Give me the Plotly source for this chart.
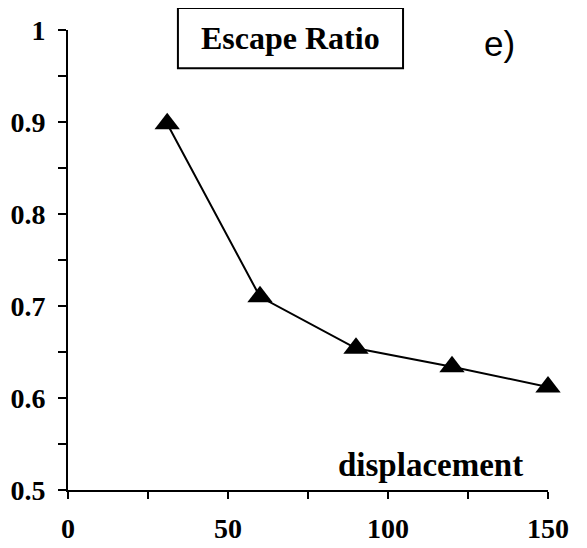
import plotly.graph_objects as go

# data
displacement = [31, 60, 90, 120, 150]
escape_ratio = [0.898, 0.710, 0.654, 0.634, 0.612]

x_ticks = [0, 50, 100, 150]
y_ticks = [0.5, 0.6, 0.7, 0.8, 0.9, 1.0]
y_tick_text = ['0.5', '0.6', '0.7', '0.8', '0.9', '1']

serif = 'Liberation Serif'

fig = go.Figure()

fig.add_trace(go.Scatter(
    x=displacement, y=escape_ratio, mode='lines+markers',
    line=dict(color='black', width=2),
    marker=dict(symbol='triangle-up', size=22, color='black'),
    showlegend=False, cliponaxis=False,
))

# page body has an 8px margin, so the figure is 8px smaller and margins shifted
fig.update_layout(
    width=579, height=540,
    paper_bgcolor='white', plot_bgcolor='white',
    margin=dict(l=60, r=39, t=22, b=58),
    xaxis=dict(
        range=[0, 150], tickvals=x_ticks, ticks='outside', ticklen=7, tickwidth=2,
        tickcolor='black', showline=True, linecolor='black', linewidth=2,
        showgrid=False, zeroline=False, ticklabelstandoff=5, automargin=False,
        tickfont=dict(family=serif, size=28, color='black', weight='bold'),
        minor=dict(dtick=25, ticks='outside', ticklen=7, tickwidth=2, tickcolor='black', showgrid=False),
    ),
    yaxis=dict(
        range=[0.5, 1.0], tickvals=y_ticks, ticktext=y_tick_text, ticks='outside', ticklen=8,
        tickwidth=2, tickcolor='black', showline=True, linecolor='black', linewidth=2,
        showgrid=False, zeroline=False, ticklabelstandoff=7, automargin=False,
        tickfont=dict(family=serif, size=28, color='black', weight='bold'),
        minor=dict(dtick=0.05, ticks='outside', ticklen=8, tickwidth=2, tickcolor='black', showgrid=False),
    ),
)

# boxed title
fig.add_shape(type='rect', xref='paper', yref='paper',
              x0=0.229, x1=0.698, y0=0.917, y1=1.048,
              line=dict(color='black', width=2), fillcolor='white')
fig.add_annotation(text='Escape Ratio', xref='paper', yref='paper',
                   x=0.4625, y=0.983, xanchor='center', yanchor='middle', showarrow=False,
                   font=dict(family=serif, size=32, color='black', weight='bold'))

# panel label
fig.add_annotation(text='e)', xref='paper', yref='paper',
                   x=0.898, y=0.971, xanchor='center', yanchor='middle', showarrow=False,
                   font=dict(family='Liberation Sans', size=35, color='black'))

# axis label
fig.add_annotation(text='displacement', xref='paper', yref='paper',
                   x=0.756, y=0.054, xanchor='center', yanchor='middle', showarrow=False,
                   font=dict(family=serif, size=33, color='black', weight='bold'))

fig.write_html('out.html')
